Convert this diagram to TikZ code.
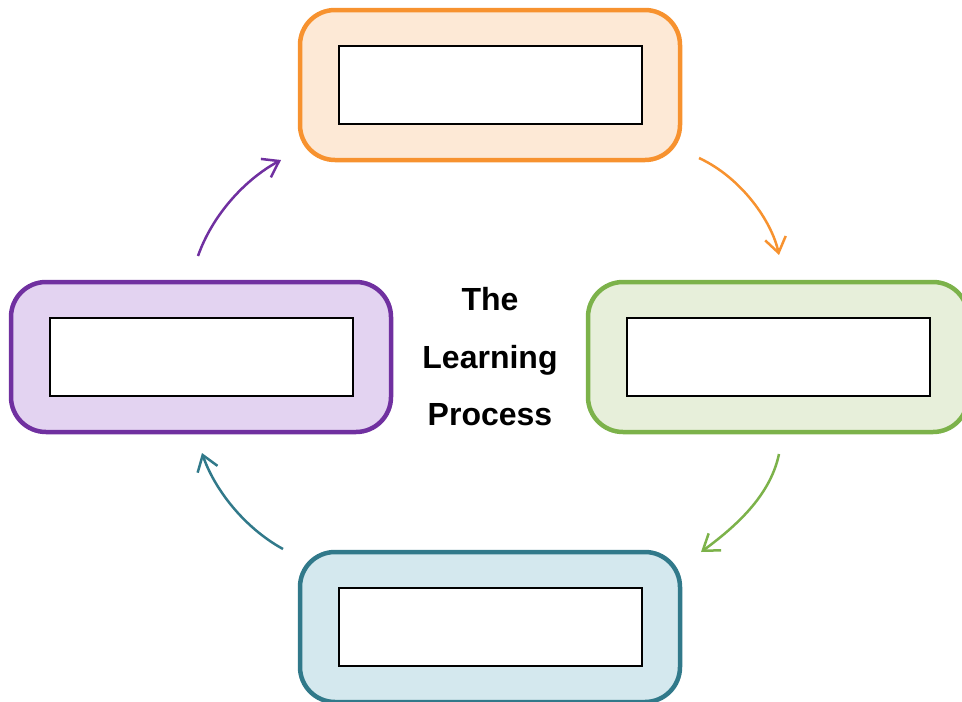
\documentclass[tikz,border=0pt]{standalone}
\usepackage{fontspec}
\setmainfont{Liberation Sans}
\usetikzlibrary{positioning,arrows.meta}

\definecolor{orangeline}{HTML}{F7922F}
\definecolor{orangefill}{HTML}{FDE9D6}
\definecolor{greenline}{HTML}{7CB24A}
\definecolor{greenfill}{HTML}{E7EFDA}
\definecolor{tealline}{HTML}{31798A}
\definecolor{tealfill}{HTML}{D4E8EE}
\definecolor{purpleline}{HTML}{7030A0}
\definecolor{purplefill}{HTML}{E3D3F1}

\begin{document}
\begin{tikzpicture}[x=1pt,y=-1pt,node distance=2cm,on grid,
    stage/.style={draw,line width=4.5pt,rounded corners=35pt,
        minimum width=380pt,minimum height=150pt,inner sep=0pt},
    slot/.style={draw=black,line width=2pt,fill=white,
        minimum width=303pt,minimum height=78pt,inner sep=0pt},
    flow/.style={line width=2.5pt,->,>={Straight Barb[length=15pt,width=21pt]}}]
        \useasboundingbox (0,0) rectangle (962,702);
        \node[stage,draw=orangeline,fill=orangefill] (s_top) at (490,85) {};
        \node[stage,draw=greenline,fill=greenfill] (s_right) [below right=272pt and 288pt of s_top] {};
        \node[stage,draw=tealline,fill=tealfill] (s_bottom) [below=542pt of s_top] {};
        \node[stage,draw=purpleline,fill=purplefill] (s_left) [below left=272pt and 289pt of s_top] {};
        \node[slot] (t_top) at (s_top) {};
        \node[slot] (t_right) at (s_right) {};
        \node[slot] (t_bottom) at (s_bottom) {};
        \node[slot] (t_left) at (s_left) {};
        \node[align=center,inner sep=0pt,font=\fontsize{32}{57.5}\selectfont\bfseries]
            (title) at (490,357) {The\\Learning\\Process};
        % arrow ends
        \coordinate (a_1) at (699,158); \coordinate (b_1) at (779,255);
        \coordinate (a_2) at (779,454); \coordinate (b_2) at (701,552);
        \coordinate (a_3) at (283,549); \coordinate (b_3) at (202,453);
        \coordinate (a_4) at (198,256); \coordinate (b_4) at (281,160);
        \draw[flow,orangeline] (a_1) .. controls (742,178) and (772,222) .. (b_1);
        \draw[flow,greenline] (a_2) .. controls (771,492) and (742,522) .. (b_2);
        \draw[flow,tealline] (a_3) .. controls (243,527) and (214,488) .. (b_3);
        \draw[flow,purpleline] (a_4) .. controls (212,216) and (244,180) .. (b_4);
    \end{tikzpicture}
\end{document}
